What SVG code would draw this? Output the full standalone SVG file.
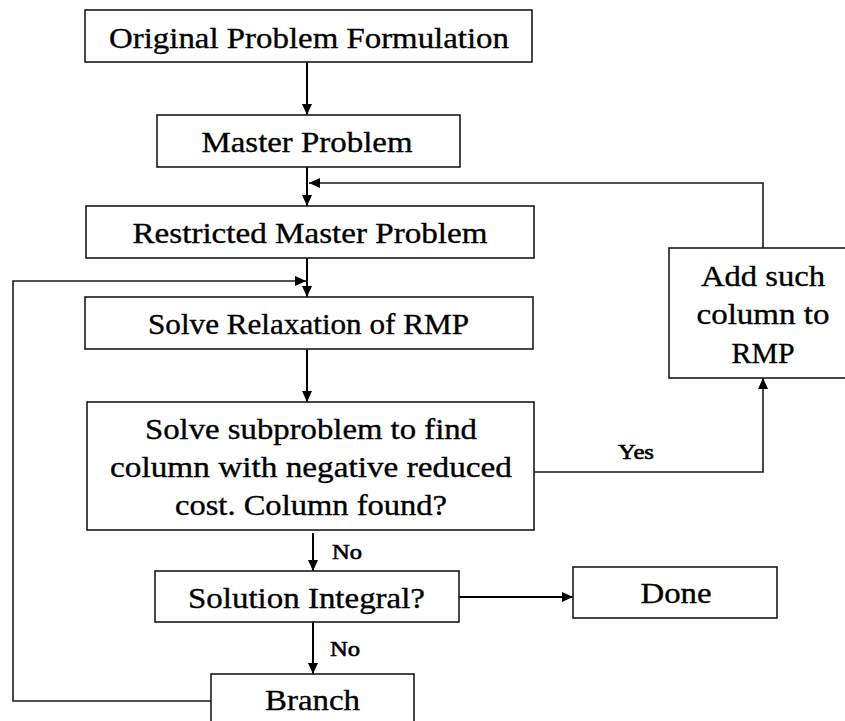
<svg xmlns="http://www.w3.org/2000/svg" width="845" height="721" viewBox="0 0 845 721">
  <style>
    .box { fill: #ffffff; stroke: #1a1a1a; stroke-width: 1.6; }
    .t { font-family: "Liberation Serif", "Times New Roman", serif; font-size: 30px; fill: #000; stroke: #000; stroke-width: 0.35; text-anchor: middle; }
    .lbl { font-family: "Liberation Serif", "Times New Roman", serif; font-size: 21px; fill: #000; stroke: #000; stroke-width: 0.6; text-anchor: middle; }
    .c { fill: none; stroke: #000; stroke-width: 2; }
    .cf { fill: none; stroke: #1a1a1a; stroke-width: 1.6; }
  </style>
  <defs>
    <marker id="ah" markerUnits="userSpaceOnUse" markerWidth="12" markerHeight="10" refX="11" refY="5" orient="auto">
      <path d="M0,0 L11,5 L0,10 Z" fill="#000"/>
    </marker>
  </defs>
  <rect width="845" height="721" fill="#ffffff"/>

  <g id="connectors">
    <line class="c" x1="307" y1="62" x2="307" y2="115" marker-end="url(#ah)"/>
    <line class="c" x1="307" y1="167" x2="307" y2="206" marker-end="url(#ah)"/>
    <polyline class="cf" points="763,248 763,183 309,183" marker-end="url(#ah)"/>
    <line class="c" x1="307" y1="258" x2="307" y2="297" marker-end="url(#ah)"/>
    <polyline class="cf" points="211,701 13,701 13,281 306,281" marker-end="url(#ah)"/>
    <line class="c" x1="307" y1="349" x2="307" y2="402" marker-end="url(#ah)"/>
    <polyline class="cf" points="534,472 763,472 763,378" marker-end="url(#ah)"/>
    <line class="c" x1="313" y1="533" x2="313" y2="571" marker-end="url(#ah)"/>
    <line class="c" x1="459" y1="597" x2="573" y2="597" marker-end="url(#ah)"/>
    <line class="c" x1="313" y1="622" x2="313" y2="674" marker-end="url(#ah)"/>
    <text class="lbl" x="347" y="559" textLength="30" lengthAdjust="spacingAndGlyphs">No</text>
    <text class="lbl" x="345" y="656" textLength="30" lengthAdjust="spacingAndGlyphs">No</text>
    <text class="lbl" x="636" y="459" textLength="36" lengthAdjust="spacingAndGlyphs">Yes</text>
  </g>

  <g id="original">
    <rect class="box" x="85" y="10" width="447" height="52"/>
    <text class="t" x="309" y="48" textLength="400" lengthAdjust="spacingAndGlyphs">Original Problem Formulation</text>
  </g>
  <g id="master">
    <rect class="box" x="157" y="115" width="303" height="52"/>
    <text class="t" x="307" y="152" textLength="211" lengthAdjust="spacingAndGlyphs">Master Problem</text>
  </g>
  <g id="rmp">
    <rect class="box" x="86" y="206" width="448" height="52"/>
    <text class="t" x="310" y="243" textLength="355" lengthAdjust="spacingAndGlyphs">Restricted Master Problem</text>
  </g>
  <g id="relaxation">
    <rect class="box" x="85" y="297" width="448" height="52"/>
    <text class="t" x="308.5" y="334" textLength="321" lengthAdjust="spacingAndGlyphs">Solve Relaxation of RMP</text>
  </g>
  <g id="subproblem">
    <rect class="box" x="87" y="402" width="447" height="128"/>
    <text class="t" x="311" y="439" textLength="332" lengthAdjust="spacingAndGlyphs">Solve subproblem to find</text>
    <text class="t" x="311" y="477" textLength="402" lengthAdjust="spacingAndGlyphs">column with negative reduced</text>
    <text class="t" x="311" y="515" textLength="272" lengthAdjust="spacingAndGlyphs">cost. Column found?</text>
  </g>
  <g id="addcolumn">
    <rect class="box" x="669" y="248" width="190" height="130"/>
    <text class="t" x="763" y="286" textLength="124" lengthAdjust="spacingAndGlyphs">Add such</text>
    <text class="t" x="763" y="324" textLength="133" lengthAdjust="spacingAndGlyphs">column to</text>
    <text class="t" x="763" y="363" textLength="63" lengthAdjust="spacingAndGlyphs">RMP</text>
  </g>
  <g id="integral">
    <rect class="box" x="155" y="571" width="304" height="51"/>
    <text class="t" x="306.5" y="608" textLength="237" lengthAdjust="spacingAndGlyphs">Solution Integral?</text>
  </g>
  <g id="done">
    <rect class="box" x="573" y="567" width="204" height="51"/>
    <text class="t" x="676" y="603" textLength="71" lengthAdjust="spacingAndGlyphs">Done</text>
  </g>
  <g id="branch">
    <rect class="box" x="211" y="674" width="203" height="60"/>
    <text class="t" x="312.5" y="710" textLength="95" lengthAdjust="spacingAndGlyphs">Branch</text>
  </g>
</svg>
